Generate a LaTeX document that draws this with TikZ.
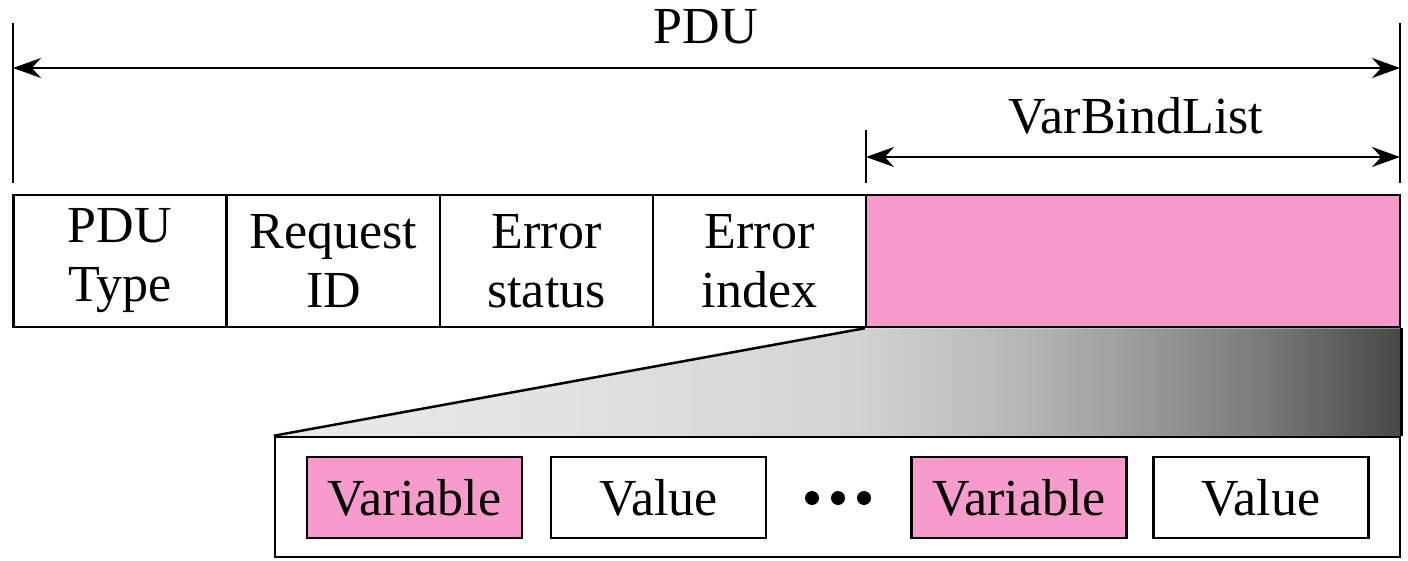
\documentclass[tikz,border=0pt]{standalone}
\usepackage{fontspec}
\setmainfont{Liberation Serif}
\usetikzlibrary{arrows.meta}
\definecolor{vbpink}{RGB}{247,155,205}
\newcommand\pdufont{\fontsize{52}{59}\selectfont}
% grey fan: light for most of its width, darkening towards the right edge
\pgfdeclarehorizontalshading{fanshade}{100bp}{%
  rgb(0bp)=(0.918,0.918,0.918); rgb(25bp)=(0.918,0.918,0.918);
  rgb(39.4bp)=(0.878,0.878,0.878); rgb(50.6bp)=(0.831,0.831,0.831);
  rgb(58.1bp)=(0.714,0.714,0.714); rgb(62.1bp)=(0.635,0.635,0.635);
  rgb(68.6bp)=(0.486,0.486,0.486); rgb(75bp)=(0.282,0.282,0.282);
  rgb(100bp)=(0.282,0.282,0.282)}
\begin{document}
\begin{tikzpicture}[x=1pt,y=-1pt,
  field/.style={draw, line width=2.5pt, minimum width=213pt, minimum height=132pt,
    inner sep=0pt, align=center, font=\pdufont},
  pair/.style={draw, line width=2.5pt, minimum width=215pt, minimum height=81pt,
    inner sep=0pt, font=\pdufont},
  tick/.style={line width=2.5pt},
  span/.style={line width=2.2pt, {Stealth[length=28pt,width=20pt]}-{Stealth[length=28pt,width=20pt]}},
  lbl/.style={font=\pdufont, inner sep=0pt, anchor=base}]
\useasboundingbox (0,0) rectangle (1408,561);

% header fields
\node[field] (type) at (120,261) {PDU\\Type};
\node[field] (reqid) at (333.5,261) {Request\\ID};
\node[field] (estat) at (546.5,261) {Error\\status};
\node[field] (eidx) at (759.5,261) {Error\\index};
\node[draw, line width=2.5pt, fill=vbpink, minimum width=534pt, minimum height=132pt,
  inner sep=0pt] (vbl) at (1133,261) {};

% expansion of the variable bindings
\coordinate (fanL) at (275,437);
\coordinate (fanR) at (1400,437);
\shade[shading=fanshade]
  (vbl.south west) -- (vbl.south east) -- (fanR) -- (fanL) -- cycle;
\node[draw, line width=2.5pt, fill=white, minimum width=1125pt, minimum height=120pt,
  inner sep=0pt] (list) at (837.5,497) {};
\draw[line width=2.5pt] (vbl.south west) -- (list.north west);
\draw[line width=2.5pt] (vbl.south east) -- (list.north east);

\node[pair, fill=vbpink] (var1) at (414.5,497.5) {Variable};
\node[pair, fill=white] (val1) at (658.5,497.5) {Value};
\node[pair, fill=vbpink] (var2) at (1019,497.5) {Variable};
\node[pair, fill=white] (val2) at (1261,497.5) {Value};
\foreach \dx in {812,838,864} \fill (\dx,498) circle (7pt);

% dimension lines
\coordinate (pL0) at (13,23);   \coordinate (pL1) at (13,183);
\coordinate (pR0) at (1400,23); \coordinate (pR1) at (1400,183);
\coordinate (vL0) at (866,130); \coordinate (vL1) at (866,183);
\draw[tick] (pL0) -- (pL1);
\draw[tick] (pR0) -- (pR1);
\draw[tick] (vL0) -- (vL1);
\coordinate (pduA) at (13,68);   \coordinate (pduB) at (1400,68);
\coordinate (vbA) at (866,157);  \coordinate (vbB) at (1400,157);
\draw[span] (pduA) -- (pduB);
\draw[span] (vbA) -- (vbB);
\node[lbl] (pdulbl) at (706,44) {PDU};
\node[lbl] (vbllbl) at (1136,134) {VarBindList};
\end{tikzpicture}
\end{document}
